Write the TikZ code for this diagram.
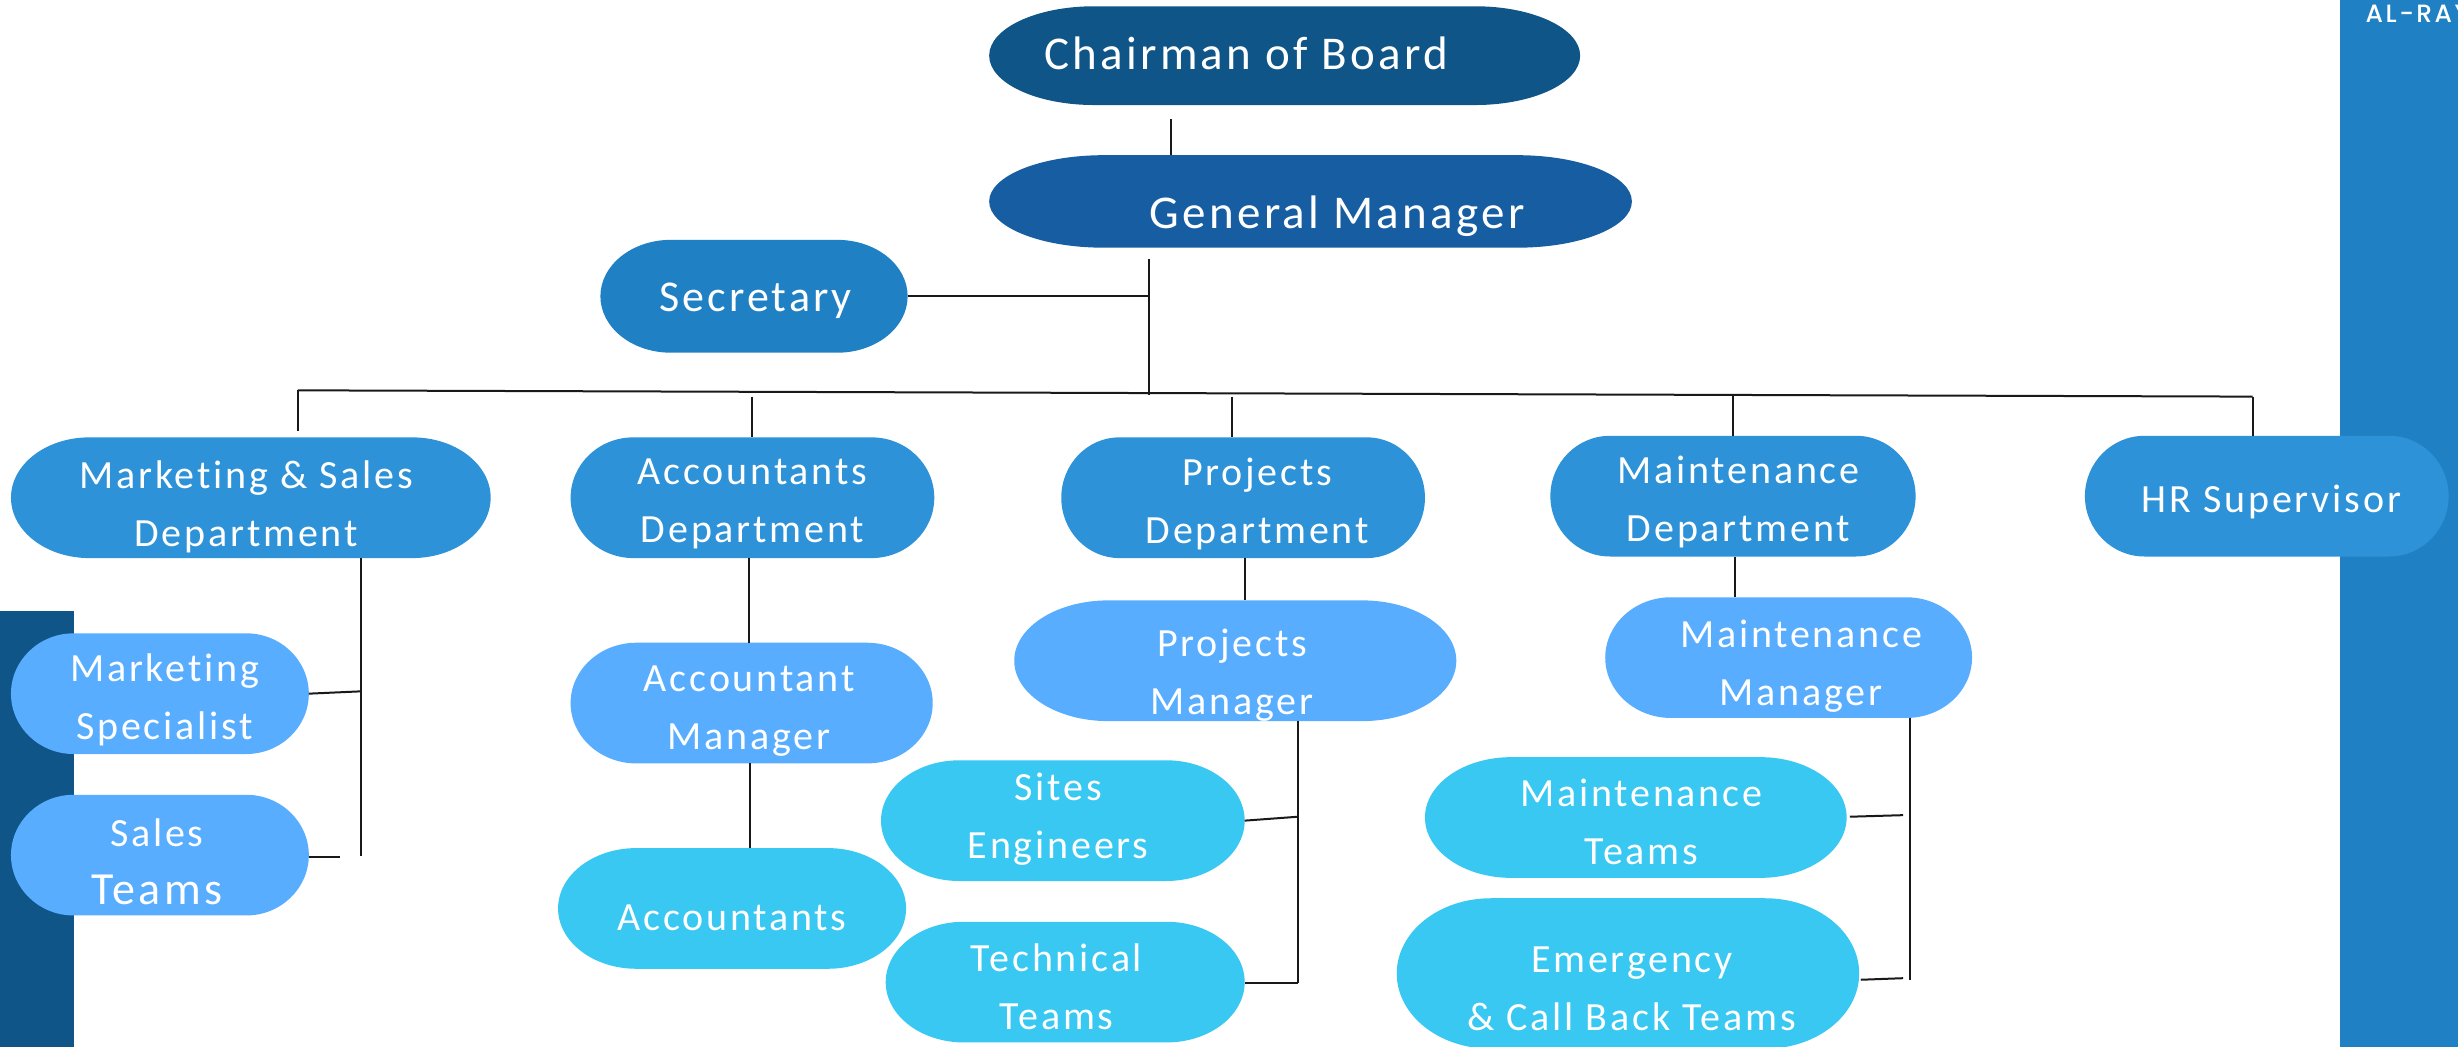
\documentclass[tikz,border=0pt]{standalone}
\usepackage{fontspec}
\setmainfont[LetterSpace=7,Ligatures=NoCommon]{Carlito}
\newfontfamily\logofont[LetterSpace=10]{Poppins Medium}
\definecolor{cNavy}{HTML}{0F5587}
\definecolor{cGM}{HTML}{165DA1}
\definecolor{cSec}{HTML}{2080C4}
\definecolor{cDept}{HTML}{2E92D8}
\definecolor{cSub}{HTML}{58ADFF}
\definecolor{cTeam}{HTML}{38C8F2}
\tikzset{
  x=1.5676pt,y=-1.5676pt,
  pillbox/.style={rectangle,inner sep=0pt,outer sep=0pt},
  pilltext/.style={text=white,align=center,inner sep=0pt,font=\fontsize{40}{58}\selectfont},
  conn/.style={draw=black!90,line width=2pt},
}
% name, x1,y1,x2,y2, corner rx, colour, text x, text y, text
\newcommand{\pill}[9]{%
  \pgfmathsetmacro{\pw}{#4-#2}\pgfmathsetmacro{\ph}{#5-#3}%
  \pgfmathsetmacro{\pry}{\ph/2}%
  \fill[#7] (#2+#6,#3) -- (#4-#6,#3)
    arc[start angle=90,end angle=-90,x radius=#6,y radius=-\pry]
    -- (#2+#6,#5)
    arc[start angle=270,end angle=90,x radius=#6,y radius=-\pry] -- cycle;
  \node[pillbox,minimum width=\pw*1.5676pt,minimum height=\ph*1.5676pt] (#1) at ({(#2+#4)/2},{(#3+#5)/2}) {};
  \node[pilltext] (#1-t) at (#8,#9) {\pilltxt};
}
\begin{document}
\begin{tikzpicture}
\useasboundingbox (0,0) rectangle (1568,667.27);
\begin{scope}
\clip (0,0) rectangle (1568,667.27);
\fill[cNavy] (0,390) rectangle (47,668);
\fill[cSec] (1493,0) rectangle (1568,668);
\node[text=white,anchor=west,inner sep=0pt,font=\logofont\fontsize{25}{25}\selectfont] (logo) at (1509,8.5) {AL-RAY};

\def\pilltxt{\fontsize{47}{47}\selectfont Chairman of Board}
\pill{chair}{631}{4}{1008}{67}{67}{cNavy}{795}{34}
\def\pilltxt{\fontsize{47}{47}\selectfont General Manager}
\pill{gm}{631}{99}{1041}{158}{73}{cGM}{853}{138}
\def\pilltxt{\fontsize{44}{44}\selectfont Secretary}
\pill{sec}{383}{153}{579}{225}{45}{cSec}{482}{192}

\def\pilltxt{Marketing \& Sales\\Department}
\pill{ms}{7}{279}{313}{356}{50}{cDept}{157}{323.5}
\def\pilltxt{Accountants\\Department}
\pill{ad}{364}{279}{596}{356}{40}{cDept}{480}{321.5}
\def\pilltxt{Projects\\Department}
\pill{pd}{677}{279}{909}{356}{37}{cDept}{802}{321.5}
\def\pilltxt{Maintenance\\Department}
\pill{md}{989}{278}{1222}{355}{38}{cDept}{1109}{320.5}
\def\pilltxt{HR Supervisor}
\pill{hr}{1330}{278}{1562}{355}{38}{cDept}{1449}{320}

\def\pilltxt{Marketing\\Specialist}
\pill{spec}{7}{404}{197}{481}{40}{cSub}{105}{446.5}
\def\pilltxt{Sales\\{\fontsize{46}{58}\selectfont Teams}}
\pill{st}{7}{507}{197}{584}{40}{cSub}{100}{549.5}
\def\pilltxt{Accountant\\Manager}
\pill{am}{364}{410}{595}{487}{42}{cSub}{478}{453.5}
\def\pilltxt{Projects\\Manager}
\pill{pm}{647}{383}{929}{460}{60}{cSub}{786}{430.5}
\def\pilltxt{Maintenance\\Manager}
\pill{mm}{1024}{381}{1258}{458}{42}{cSub}{1149}{425}

\def\pilltxt{Accountants}
\pill{acc}{356}{541}{578}{618}{50}{cTeam}{467}{585.5}
\def\pilltxt{Sites\\Engineers}
\pill{se}{562}{485}{794}{562}{50}{cTeam}{675}{522.5}
\def\pilltxt{Technical\\Teams}
\pill{tt}{565}{588}{794}{665}{50}{cTeam}{674}{629.5}
\def\pilltxt{Maintenance\\Teams}
\pill{mt}{909}{483}{1178}{560}{55}{cTeam}{1047}{524.5}
\def\pilltxt{Emergency\\\& Call Back Teams}
\pill{em}{891}{573}{1186}{669}{60}{cTeam}{1041}{630.5}

% free-end and junction points
\coordinate (c1) at (747,76);
\coordinate (t1) at (733,165);
\coordinate (t2) at (733,252);
\coordinate (b1) at (190,249);
\coordinate (b2) at (480,253);
\coordinate (b3) at (786,253);
\coordinate (b4) at (1105.5,252);
\coordinate (b5) at (1437,253);
\coordinate (j1) at (733,189);
\coordinate (ms1) at (230.5,546);
\coordinate (ms2) at (230.5,441);
\coordinate (ms3) at (217,547);
\coordinate (pm1) at (828,627);
\coordinate (pm2) at (828,521);
\coordinate (mm1) at (1218.5,625);
\coordinate (mm2) at (1214,520);
\coordinate (mm3) at (1214,624);
\coordinate (mm4) at (1180,521);
\coordinate (mm5) at (1187,625);

\draw[conn] (c1) -- (c1 |- gm.north);
\draw[conn] (t1) -- (t2);
\draw[conn] (sec.east) -- (j1);
\draw[conn] (b1) -- (b5);
\draw[conn] (b1) -- (b1 |- 0,275);
\draw[conn] (b2) -- (b2 |- ad.north);
\draw[conn] (b3) -- (b3 |- pd.north);
\draw[conn] (b4) -- (b4 |- md.north);
\draw[conn] (b5) -- (b5 |- hr.north);
\draw[conn] (ms1 |- ms.south) -- (ms1);
\draw[conn] (spec.east) -- (ms2);
\draw[conn] (st.east |- ms3) -- (ms3);
\draw[conn] (478,356) -- (478,410);
\draw[conn] (478.5,487) -- (478.5,541);
\draw[conn] (794,356) -- (794,383);
\draw[conn] (pm1 |- pm.south) -- (pm1);
\draw[conn] (se.east) -- (pm2);
\draw[conn] (tt.east |- pm1) -- (pm1);
\draw[conn] (1107,355) -- (1107,381);
\draw[conn] (mm1 |- mm.south) -- (mm1);
\draw[conn] (mm4) -- (mm2);
\draw[conn] (mm5) -- (mm3);
\end{scope}
\end{tikzpicture}
\end{document}
